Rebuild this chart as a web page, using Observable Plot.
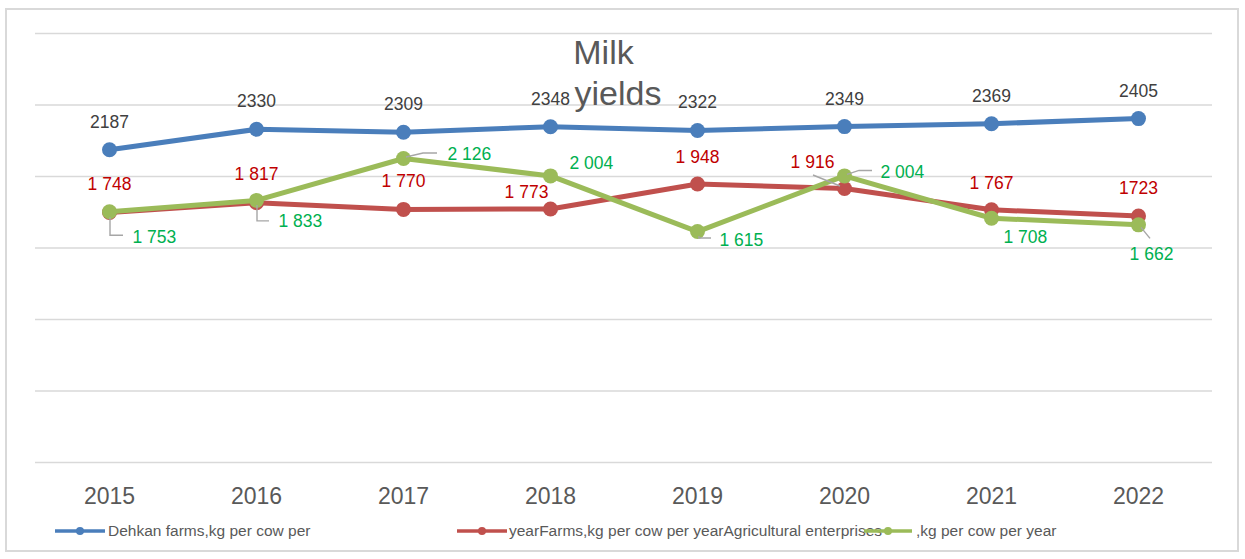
<!DOCTYPE html>
<html>
<head>
<meta charset="utf-8">
<script src="https://cdn.jsdelivr.net/npm/d3@7"></script>
<script src="https://cdn.jsdelivr.net/npm/@observablehq/plot@0.6"></script>
<style>
  body { margin: 0; background: #fff; font-family: "Liberation Sans", Arial, sans-serif; }
  #wrap { position: relative; width: 1245px; height: 559px; overflow: hidden; background: #fff; }
  #frame { position: absolute; left: 5px; top: 8px; width: 1234px; height: 544px; border: 2px solid #d9d9d9; box-sizing: border-box; }
  #chart { position: absolute; left: 0; top: 0; }
  .lg-text { position: absolute; top: 522px; font-size: 15.5px; line-height: 18px; color: #595959; white-space: nowrap; }
  .lg-swatch { position: absolute; top: 526px; }
</style>
</head>
<body>
<div id="wrap">
  <div id="frame"></div>
  <div id="chart"></div>
  <div id="legend"></div>
</div>
<script>
// ---- data ----
const years = ["2015", "2016", "2017", "2018", "2019", "2020", "2021", "2022"];
const dehkan = [2187, 2330, 2309, 2348, 2322, 2349, 2369, 2405];
const farms = [1748, 1817, 1770, 1773, 1948, 1916, 1767, 1723];
const agri = [1753, 1833, 2126, 2004, 1615, 2004, 1708, 1662];
const farmsGrouped = [true, true, true, true, true, true, true, false];
const yTicks = [0, 500, 1000, 1500, 2000, 2500, 3000];
const titleLines = ["Milk", "yields"];
const legendLabels = ["Dehkan farms,kg per cow per", "yearFarms,kg per cow per yearAgricultural enterprises", ",kg per cow per year"];

// ---- styles / layout ----
const colors = { dehkan: "#4a7ebb", farms: "#c0504d", agri: "#9bbb59" };
const labelColors = { dehkan: "#404040", farms: "#c00000", agri: "#00b050" };
const farmsLabelOffset = [[0, -23], [0, -23], [0, -22], [-24, -11], [0, -21], [-32, -21], [0, -21], [0, -22]];
const agriLabelOffset = [[23, 31, "start"], [22, 27, "start"], [44, 2, "start"], [19, -7, "start"], [22, 14, "start"], [36, 2, "start"], [12, 25, "start"], [13, 35, "middle"]];
const leaders = [
  { key: "agri", i: 0, pts: [[1, 6], [1, 24], [14, 24]] },
  { key: "agri", i: 1, pts: [[1, 5], [1, 21], [13, 21]] },
  { key: "agri", i: 2, pts: [[3, -1], [20, -5], [34, -5]] },
  { key: "agri", i: 4, pts: [[2, 5], [2, 7], [14, 7]] },
  { key: "agri", i: 5, pts: [[3, -1], [15, -5], [28, -5]] },
  { key: "agri", i: 7, pts: [[3, 3], [12, 14]] },
  { key: "farms", i: 5, pts: [[-4, -2], [-31, -13]] }
];

const fmtSpace = n => d3.format(",")(n).replace(/,/g, " ");
const rows = years.map((yr, i) => ({ year: yr, dehkan: dehkan[i], farms: farms[i], agri: agri[i] }));

const marks = [
  Plot.gridY(yTicks, { stroke: "#d9d9d9", strokeOpacity: 1, strokeWidth: 1.6 }),
  Plot.axisX({ tickSize: 0, tickPadding: 25, fontSize: 23, fill: "#595959", label: null })
];
for (const key of ["dehkan", "farms", "agri"]) {
  marks.push(Plot.line(rows, { x: "year", y: key, stroke: colors[key], strokeWidth: 5, strokeLinejoin: "round", strokeLinecap: "round" }));
  marks.push(Plot.dot(rows, { x: "year", y: key, r: 7.5, fill: colors[key], stroke: null }));
}
// leader lines for data labels
marks.push((index, scales) => {
  const sx = scales.x, sy = scales.y;
  const g = d3.create("svg:g").attr("fill", "none").attr("stroke", "#a6a6a6").attr("stroke-width", 1.4);
  for (const l of leaders) {
    const px = sx(years[l.i]), py = sy(rows[l.i][l.key]);
    g.append("polyline").attr("points", [[0, 0], ...l.pts].slice(1).map(([dx, dy]) => `${px + dx},${py + dy}`).join(" "));
  }
  return g.node();
});
// blue labels
marks.push(Plot.text(rows, { x: "year", y: "dehkan", text: d => String(d.dehkan), dy: -22, lineAnchor: "bottom", fontSize: 17.5, fill: labelColors.dehkan }));
// red labels
rows.forEach((d, i) => {
  marks.push(Plot.text([d], { x: "year", y: "farms", text: r => farmsGrouped[i] ? fmtSpace(r.farms) : String(r.farms), dx: farmsLabelOffset[i][0], dy: farmsLabelOffset[i][1], lineAnchor: "bottom", fontSize: 17.5, fill: labelColors.farms }));
});
// green labels
rows.forEach((d, i) => {
  const [dx, dy, anchor] = agriLabelOffset[i];
  marks.push(Plot.text([d], { x: "year", y: "agri", text: r => fmtSpace(r.agri), dx, dy, textAnchor: anchor, lineAnchor: "bottom", fontSize: 17.5, fill: labelColors.agri }));
});
// title
marks.push(Plot.text([titleLines[0]], { text: d => d, frameAnchor: "top-left", dx: 568, dy: 30, textAnchor: "middle", lineAnchor: "bottom", fontSize: 34, fill: "#595959" }));
marks.push(Plot.text([titleLines[1]], { text: d => d, frameAnchor: "top-left", dx: 582.5, dy: 71, textAnchor: "middle", lineAnchor: "bottom", fontSize: 34, fill: "#595959" }));

const chart = Plot.plot({
  width: 1245,
  height: 515,
  marginLeft: 35,
  marginRight: 33,
  marginTop: 33,
  marginBottom: 53,
  style: { fontFamily: "'Liberation Sans', Arial, sans-serif", fontSize: "17.5px", background: "transparent", overflow: "visible" },
  x: { type: "point", domain: years, padding: 0.5, axis: null },
  y: { domain: [0, 3000], axis: null },
  marks
});
document.getElementById("chart").appendChild(chart);

// ---- legend ----
const legendItems = [
  { key: "dehkan", lineX: 55, lineW: 50, textX: 108 },
  { key: "farms", lineX: 457, lineW: 50, textX: 509 },
  { key: "agri", lineX: 864, lineW: 48, textX: 916 }
];
const legend = document.getElementById("legend");
legendItems.forEach((it, i) => {
  const t = document.createElement("div");
  t.className = "lg-text";
  t.style.left = it.textX + "px";
  t.textContent = legendLabels[i];
  legend.appendChild(t);
});
legendItems.forEach((it) => {
  const s = d3.create("svg").attr("class", "lg-swatch").attr("width", it.lineW).attr("height", 10)
    .style("left", it.lineX + "px");
  s.append("line").attr("x1", 0).attr("x2", it.lineW).attr("y1", 5).attr("y2", 5).attr("stroke", colors[it.key]).attr("stroke-width", 3.5);
  s.append("circle").attr("cx", it.lineW / 2).attr("cy", 5).attr("r", 4).attr("fill", colors[it.key]);
  legend.appendChild(s.node());
});
</script>
</body>
</html>
